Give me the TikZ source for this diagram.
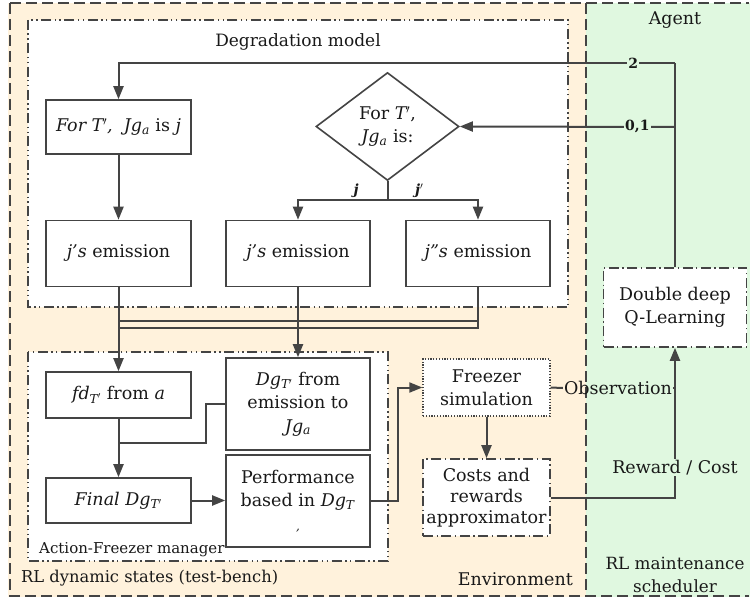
\documentclass[tikz,border=0pt]{standalone}
\usepackage{fontspec}
\setmainfont{DejaVu Serif}
\usetikzlibrary{arrows.meta,shapes.geometric}
\definecolor{envfill}{RGB}{255,242,220}
\definecolor{agentfill}{RGB}{224,248,224}
\definecolor{ink}{RGB}{68,68,68}
\newcommand{\sbs}[1]{\textsubscript{\textit{#1}}}
\newcommand{\fs}[2]{\fontsize{#1}{#2}\selectfont}
\begin{document}
\begin{tikzpicture}[x=1pt,y=-1pt,
  font=\fs{17.5}{23.5},
  every node/.style={text=black!90},
  box/.style={draw=ink,line width=1.6pt,fill=white,inner sep=2pt,align=center},
  ddot/.style={draw=ink,line width=1.6pt,dash pattern=on 10pt off 3.5pt on 1.4pt off 3.5pt on 1.4pt off 3.5pt},
  dshdot/.style={draw=ink,line width=1.6pt,dash pattern=on 10pt off 3.5pt on 1.4pt off 3.5pt},
  dotbox/.style={draw=ink,line width=1.3pt,dash pattern=on 1.2pt off 1.6pt},
  region/.style={draw=ink,line width=1.5pt,dash pattern=on 11pt off 5pt},
  conn/.style={draw=ink,line width=2pt},
  arr/.style={conn,-{Triangle[length=13pt,width=10pt]}},
  lbl/.style={font=\fs{14}{16}\bfseries,inner sep=1pt},
]
\useasboundingbox (0,0) rectangle (750,599);

% background regions
\fill[envfill] (8,3) rectangle (586,597);
\fill[agentfill] (586,3) rectangle (750,597);
\draw[region] (10,3) -- (749,3);
\draw[region] (10,3) -- (10,596) -- (749,596);
\draw[region] (586,3) -- (586,596);

% inner groups
\draw[ddot,fill=white] (28,20) rectangle (568,307);
\draw[ddot,fill=white] (28,352) rectangle (388,561);

\node[font=\fs{17}{20}] (degl) at (298,42) {Degradation model};
\node (agentl) at (675,20) {Agent};
\node[anchor=south west,inner sep=0pt,font=\fs{15}{18}] (afml) at (39,557) {Action-Freezer manager};
\node[anchor=south west,inner sep=0pt,font=\fs{16.3}{20}] (rlds) at (21,586) {RL dynamic states (test-bench)};
\node[anchor=south east,inner sep=0pt] (envl) at (573,586) {Environment};
\node[align=center,inner sep=0pt,font=\fs{16.8}{23}] (rlms) at (675,575) {RL maintenance\\scheduler};

% degradation model
\node[box,minimum width=145pt,minimum height=54pt] (fort) at (118.5,127)
  {\textit{For T$'$, \ Jg}\sbs{a} is \textit{j}};
\node[draw=ink,line width=1.6pt,fill=white,shape=diamond,minimum width=143pt,minimum height=108pt,inner sep=0pt,align=center] (dec) at (387.5,126.5)
  {For \textit{T$'$},\\\textit{Jg}\sbs{a} is:};
\node[box,minimum width=145pt,minimum height=66pt] (em1) at (118.5,253.5) {\textit{j's} emission};
\node[box,minimum width=144pt,minimum height=66pt] (em2) at (298,253.5) {\textit{j's} emission};
\node[box,minimum width=144pt,minimum height=66pt] (em3) at (478,253.5) {\textit{j"s} emission};

% action-freezer manager
\node[box,minimum width=145pt,minimum height=46pt] (fd) at (118.5,395)
  {\textit{fd}\sbs{T$'$} from \textit{a}};
\node[box,minimum width=144pt,minimum height=92pt] (dg) at (298,404)
  {\textit{Dg}\sbs{T$'$} from\\emission to\\\textit{Jg}\sbs{a}};
\node[box,minimum width=145pt,minimum height=45pt] (fin) at (118.5,500.5)
  {\textit{Final Dg}\sbs{T$'$}};
\node[box,minimum width=144pt,minimum height=92pt] (perf) at (298,501)
  {Performance\\based in \textit{Dg}\sbs{T}\\{\fs{12}{14}\textit{,}}};

% environment blocks
\node[box,dotbox,minimum width=127pt,minimum height=57pt] (frz) at (486.5,387.5) {Freezer\\simulation};
\node[box,dshdot,minimum width=127pt,minimum height=77pt,font=\fs{17.5}{21}] (cost) at (486.5,497.5) {Costs and\\rewards\\approximator};

% agent
\node[box,dshdot,minimum width=143pt,minimum height=79pt] (ddql) at (675,307.5) {Double deep\\Q-Learning};

% agent actions
\coordinate (top) at (675,63);
\coordinate (mid) at (675,127);
\draw[conn] (ddql.north) -- (top);
\draw[arr] (top) -- node[lbl,fill=agentfill,pos=0.075] {2} (top -| fort.north) -- (fort.north);
\draw[arr] (mid) -- node[lbl,fill=agentfill,pos=0.175] {0,1} (dec.east);

% decision branches
\coordinate (split) at (dec.south |- 0,200);
\draw[conn] (dec.south) -- (split);
\draw[arr] (split) -- node[lbl,font=\fs{14}{16}\bfseries\itshape,above,pos=0.35] {j} (em2.north |- split) -- (em2.north);
\draw[arr] (split) -- node[lbl,font=\fs{14}{16}\bfseries\itshape,above,pos=0.35] {j$'$} (em3.north |- split) -- (em3.north);
\draw[arr] (fort) -- (em1);

% emissions into the manager
\draw[arr] (em1.south) -- (fd.north);
\draw[arr] (em2.south) -- (dg.north);
\draw[conn] (em3.south) -- (em3.south |- 0,328) -- (em1.south |- 0,328);
\draw[conn] (em3.south |- 0,321) -- (em1.south |- 0,321);

% manager flow
\draw[arr] (fd.south) -- (fin.north);
\draw[conn] (dg.west) -- (206,404) -- (206,443) -- (fd.south |- 0,443);
\draw[arr] (fin.east) -- (perf.west |- fin.east);
\draw[arr] (perf.east) -- (398,501) -- (398,387.5) -- (frz.west);
\draw[arr] (frz.south) -- (cost.north);

% feedback to the agent
\node[inner sep=1pt] (obs) at (618,388) {Observation};
\draw[conn] (frz.east) -- (obs.west);
\draw[conn] (obs.east) -- (675,388);
\draw[arr] (cost.east) -- (675,497.5) -- node[fill=agentfill,inner sep=1pt,pos=0.2] {Reward / Cost} (ddql.south);
\end{tikzpicture}
\end{document}
